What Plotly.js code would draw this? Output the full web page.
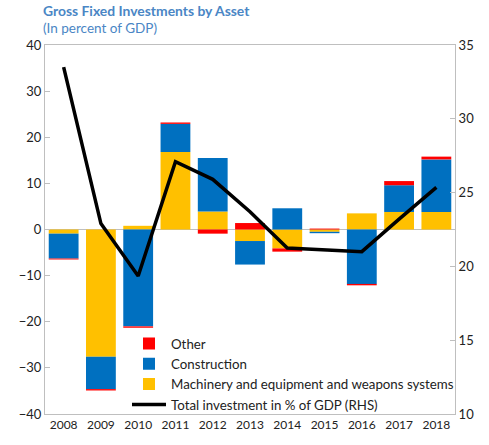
<!DOCTYPE html>
<html><head><meta charset="utf-8">
<script src="https://cdn.plot.ly/plotly-3.0.1.min.js"></script>
<style>body{margin:0;padding:0;background:#fff}#chart{width:489px;height:445px}</style>
</head><body><div id="chart"></div>
<script>
const years = ['2008','2009','2010','2011','2012','2013','2014','2015','2016','2017','2018'];
const machinery = [-0.9, -27.6, 0.8, 16.8, 3.9, -2.5, -4.1, -0.5, 3.5, 3.8, 3.8];
const construction = [-5.4, -7.0, -21.0, 6.1, 11.6, -5.1, 4.6, -0.3, -11.8, 5.8, 11.4];
const other = [-0.2, -0.3, -0.3, 0.3, -0.9, 1.4, -0.7, 0.2, -0.3, 0.9, 0.6];
const totalPctGDP = [33.5, 22.9, 19.35, 27.1, 25.9, 23.7, 21.25, 21.15, 21.0, 23.2, 25.35];

const font = "Lato, 'Open Sans', sans-serif";
const traces = [
  {type:'bar', x:years, y:machinery, name:'Machinery and equipment and weapons systems', marker:{color:'#FFC000'}, legendrank:3},
  {type:'bar', x:years, y:construction, name:'Construction', marker:{color:'#0070C0'}, legendrank:2},
  {type:'bar', x:years, y:other, name:'Other', marker:{color:'#FF0000'}, legendrank:1},
  {type:'scatter', mode:'lines', x:years, y:totalPctGDP, yaxis:'y2', name:'Total investment in % of GDP (RHS)', line:{color:'#000', width:3.5}, legendrank:4}
];
const layout = {
  width:489, height:445,
  margin:{l:45, r:34, t:45, b:31},
  paper_bgcolor:'#fff', plot_bgcolor:'#fff',
  barmode:'relative', bargap:0.2,
  font:{family:font, size:12, color:'#222'},
  showlegend:true,
  legend:{x:0.2, y:0.232, xanchor:'left', yanchor:'top', traceorder:'normal', bgcolor:'rgba(0,0,0,0)', font:{size:13.3, color:'#222'}, itemwidth:34, tracegroupgap:0},
  xaxis:{type:'category', showline:true, linecolor:'#bfbfbf', mirror:true, ticks:'', tickfont:{size:12}},
  yaxis:{range:[-40,40], dtick:10, showgrid:false, zeroline:true, zerolinecolor:'#bfbfbf', zerolinewidth:1.5, showline:true, linecolor:'#bfbfbf', ticks:'inside', ticklen:5, tickcolor:'#bfbfbf', tickfont:{size:13}},
  yaxis2:{range:[10,35], dtick:5, overlaying:'y', side:'right', showgrid:false, zeroline:false, showline:true, linecolor:'#bfbfbf', ticks:'inside', ticklen:5, tickcolor:'#bfbfbf', tickfont:{size:13}},
  annotations:[
    {text:'<b>Gross Fixed Investments by Asset</b>', xref:'paper', yref:'paper', x:0, y:1, xshift:-4, yshift:24, xanchor:'left', yanchor:'bottom', showarrow:false, font:{size:13.9, color:'#4A86C5', family:font}},
    {text:'(In percent of GDP)', xref:'paper', yref:'paper', x:0, y:1, xshift:-4, yshift:7, xanchor:'left', yanchor:'bottom', showarrow:false, font:{size:13.5, color:'#4A86C5', family:font}}
  ]
};
Plotly.newPlot('chart', traces, layout, {displayModeBar:false, staticPlot:true});
</script></body></html>
